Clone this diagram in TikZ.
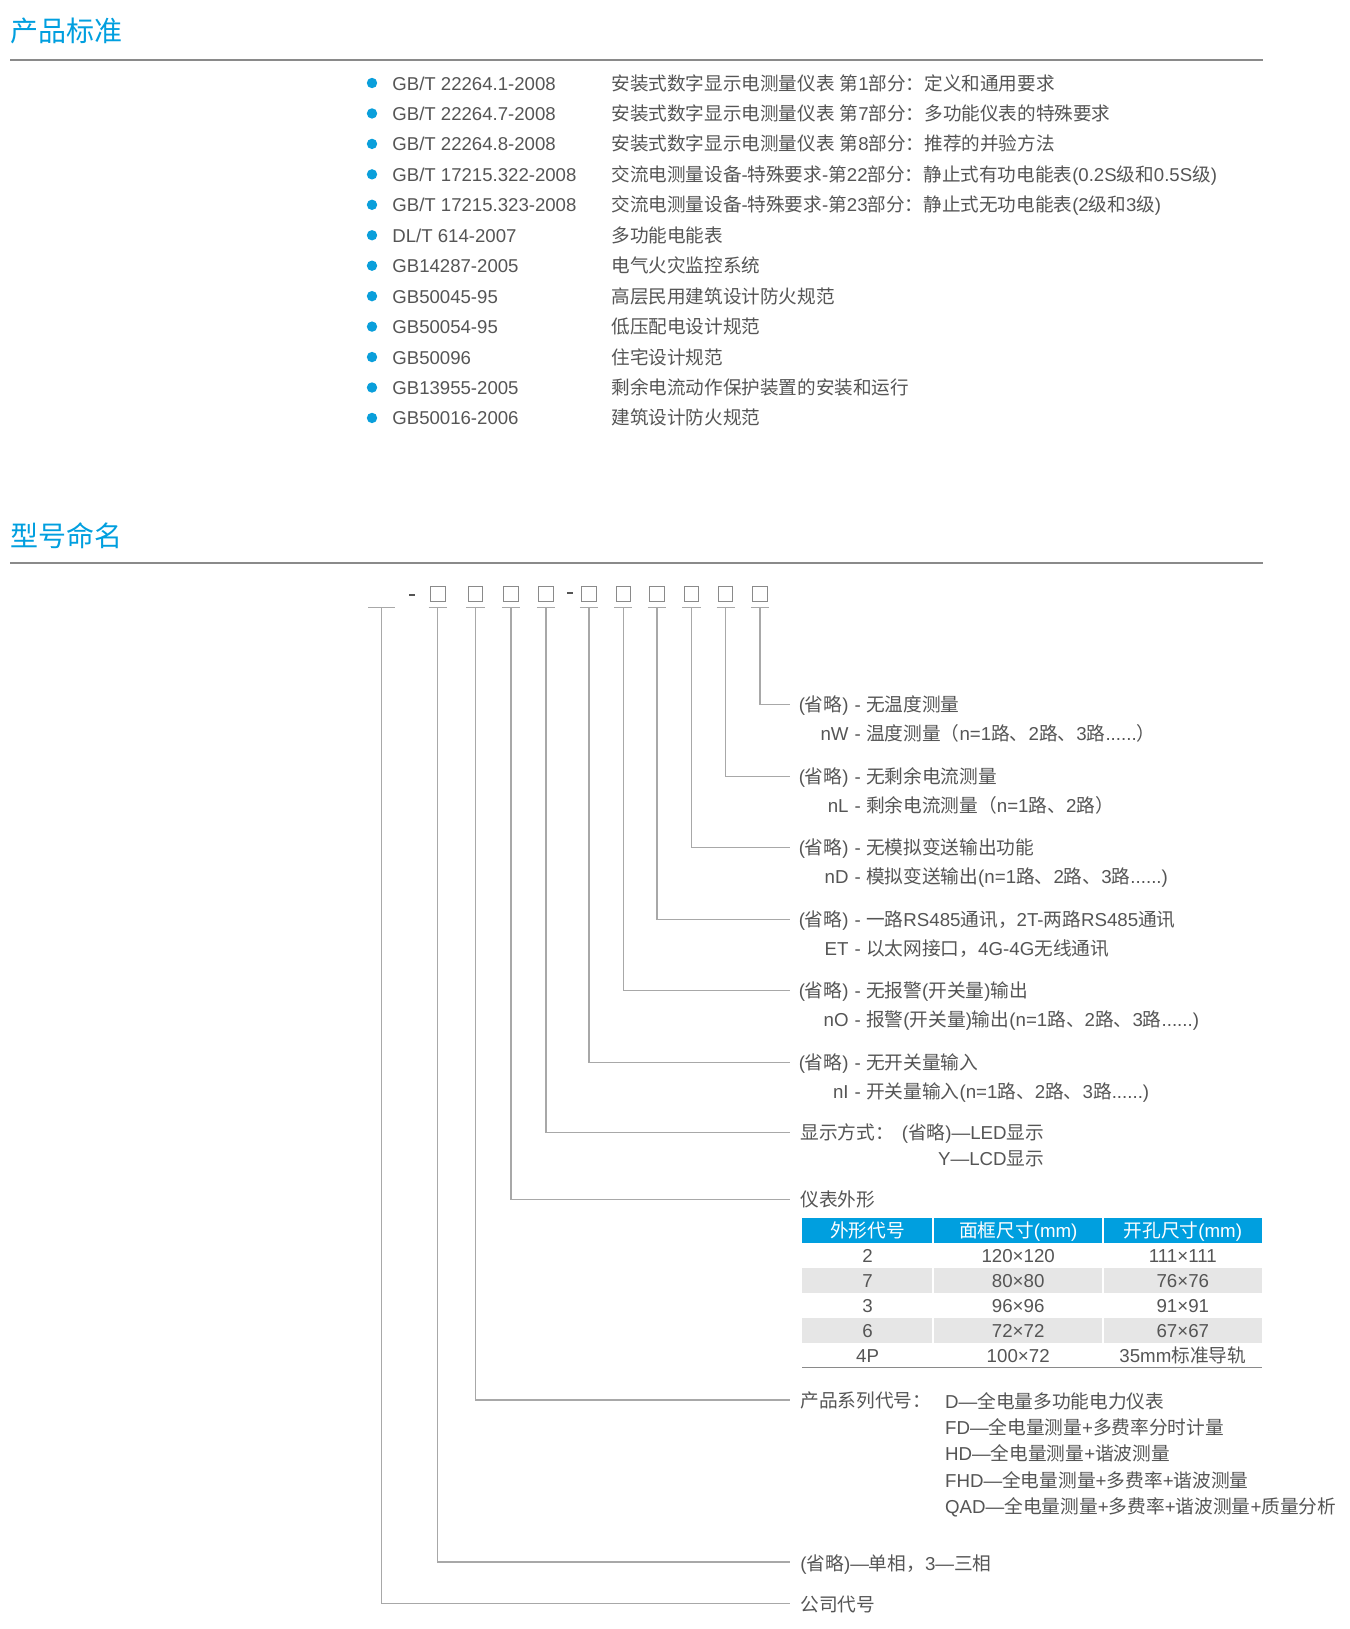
\documentclass[tikz,border=0pt]{standalone}
\usepackage{fontspec}
\setmainfont{Liberation Sans}
\newfontfamily\zh{Noto Sans CJK SC}
\XeTeXinterchartokenstate=1
\newXeTeXintercharclass\cjkcls
\newcount\mycnt
\mycnt="2E80
\loop\XeTeXcharclass\mycnt=\cjkcls\ifnum\mycnt<"9FFF\advance\mycnt by 1\repeat
\mycnt="FF00
\loop\XeTeXcharclass\mycnt=\cjkcls\ifnum\mycnt<"FFEF\advance\mycnt by 1\repeat
\XeTeXinterchartoks 0 \cjkcls={\zh}
\XeTeXinterchartoks 4095 \cjkcls={\zh}
\XeTeXinterchartoks \cjkcls 0={\rmfamily}
\XeTeXinterchartoks \cjkcls 4095={\rmfamily}
\definecolor{hblue}{HTML}{009FDF}
\definecolor{tgray}{HTML}{555555}
\definecolor{lgray}{HTML}{A8A8A8}
\definecolor{rgray}{HTML}{8A8A8A}
\definecolor{rowg}{HTML}{E6E6E6}
\definecolor{bdot}{HTML}{0A9FDB}
\tikzset{
  hd/.style={anchor=west,inner sep=0pt,text=hblue,font=\fontsize{14}{16}\selectfont,text height=12pt,text depth=1.4pt},
  st/.style={anchor=west,inner sep=0pt,text=tgray,font=\fontsize{9.3}{11}\selectfont,text height=8pt,text depth=1pt},
  md/.style={anchor=west,inner sep=0pt,text=tgray,font=\fontsize{9.35}{11}\selectfont,text height=8pt,text depth=1pt},
  tc/.style={md,anchor=center},
  th/.style={tc,text=white},
  dot/.style={circle,fill=bdot,inner sep=0pt,minimum size=5.2pt},
  sq/.style={draw=rgray,line width=0.5pt,inner sep=0pt,minimum width=7.2pt,minimum height=7.2pt},
  ln/.style={draw=lgray,line width=0.6pt},
  rule/.style={draw=rgray,line width=1pt},
}
\newcommand\strow[3]{%
  \node[dot] (p#1) at (372,{83+30.45*#1}) {};
  \node[st] (c#1) at (392,{83+30.45*#1}) {#2};
  \node[st] (d#1) at (611,{83+30.45*#1}) {#3};}
\newcommand\mrow[4]{%
  \node[md,anchor=east] (#1a) at (849,#2) {#3};
  \node[md] (#1b) at (849,#2) {\ - #4};}
\begin{document}
\begin{tikzpicture}[x=0.5pt,y=-0.5pt]
\useasboundingbox (0,0) rectangle (1350,1629);
\fill[white] (0,0) rectangle (1350,1629);
% heading 1
\node[hd] (h1) at (10,31) {产品标准};
\coordinate (r1a) at (10,59.5); \coordinate (r1b) at (1263,59.5);
\draw[rule] (r1a) -- (r1b);
\strow{0}{GB/T 22264.1-2008}{安装式数字显示电测量仪表 第1部分：定义和通用要求}
\strow{1}{GB/T 22264.7-2008}{安装式数字显示电测量仪表 第7部分：多功能仪表的特殊要求}
\strow{2}{GB/T 22264.8-2008}{安装式数字显示电测量仪表 第8部分：推荐的并验方法}
\strow{3}{GB/T 17215.322-2008}{交流电测量设备-特殊要求-第22部分：静止式有功电能表(0.2S级和0.5S级)}
\strow{4}{GB/T 17215.323-2008}{交流电测量设备-特殊要求-第23部分：静止式无功电能表(2级和3级)}
\strow{5}{DL/T 614-2007}{多功能电能表}
\strow{6}{GB14287-2005}{电气火灾监控系统}
\strow{7}{GB50045-95}{高层民用建筑设计防火规范}
\strow{8}{GB50054-95}{低压配电设计规范}
\strow{9}{GB50096}{住宅设计规范}
\strow{10}{GB13955-2005}{剩余电流动作保护装置的安装和运行}
\strow{11}{GB50016-2006}{建筑设计防火规范}
% heading 2
\node[hd] (h2) at (10,535.5) {型号命名};
\coordinate (r2a) at (10,563); \coordinate (r2b) at (1263,563);
\draw[rule] (r2a) -- (r2b);
% top row
\coordinate (m1a) at (409.3,595); \coordinate (m1b) at (414.5,595);
\coordinate (m2a) at (567.3,593); \coordinate (m2b) at (572.7,593);
\draw[draw=tgray,line width=1pt] (m1a) -- (m1b);
\draw[draw=tgray,line width=1pt] (m2a) -- (m2b);
\foreach \x [count=\i] in {437.8,475.5,511,546,589,623.2,657,691.3,725.7,760}{
  \node[sq] (b\i) at (\x,593.8) {};
  \coordinate (k\i) at (\x,607.7);
  \draw[ln] ([xshift=-4.6pt]k\i) -- ([xshift=4.6pt]k\i);
}
\coordinate (k0) at (381.5,607.7);
\draw[ln] ([xshift=-6.7pt]k0) -- ([xshift=6.7pt]k0);
% branch ends
\foreach \y [count=\i from 0] in {1603.5,1562,1400,1199.4,1132.5,1062.8,990.5,919.5,847.8,776.5,704.5}{
  \coordinate (e\i) at (790,\y);
  \draw[ln] (k\i) |- (e\i);
}
% labels
\mrow{t10}{704.5}{(省略)}{无温度测量}
\mrow{u10}{733.2}{nW}{温度测量（n=1路、2路、3路......）}
\mrow{t9}{776.5}{(省略)}{无剩余电流测量}
\mrow{u9}{805.2}{nL}{剩余电流测量（n=1路、2路）}
\mrow{t8}{847.8}{(省略)}{无模拟变送输出功能}
\mrow{u8}{876.5}{nD}{模拟变送输出(n=1路、2路、3路......)}
\mrow{t7}{919.5}{(省略)}{一路RS485通讯，2T-两路RS485通讯}
\mrow{u7}{948.2}{ET}{以太网接口，4G-4G无线通讯}
\mrow{t6}{990.5}{(省略)}{无报警(开关量)输出}
\mrow{u6}{1019.2}{nO}{报警(开关量)输出(n=1路、2路、3路......)}
\mrow{t5}{1062.8}{(省略)}{无开关量输入}
\mrow{u5}{1091.5}{nI}{开关量输入(n=1路、2路、3路......)}
\node[md] (t4) at (800,1132.5) {显示方式：};
\node[md,anchor=east] (t4a) at (1044.5,1132.5) {(省略)—LED显示};
\node[md,anchor=east] (t4b) at (1044.5,1158.5) {Y—LCD显示};
\node[md] (t3) at (800,1199.4) {仪表外形};
% table
\fill[hblue] (802.3,1217.7) rectangle (1262.3,1243.3);
\fill[rowg] (802.3,1268.3) rectangle (1262.3,1293.3);
\fill[rowg] (802.3,1318.3) rectangle (1262.3,1342.7);
\foreach \x in {933,1103.3}{
  \draw[white,line width=1pt] (\x,1217.7) -- (\x,1243.3);
  \draw[white,line width=1pt] (\x,1268.3) -- (\x,1293.3);
  \draw[white,line width=1pt] (\x,1318.3) -- (\x,1342.7);
}
\draw[draw=rgray,line width=0.8pt] (802.3,1367.5) -- (1262.3,1367.5);
\node[th] (q0a) at (867.6,1230.5) {外形代号};
\node[th] (q0b) at (1018.2,1230.5) {面框尺寸(mm)};
\node[th] (q0c) at (1182.8,1230.5) {开孔尺寸(mm)};
\foreach \a/\b/\c/\y [count=\i] in {2/120×120/111×111/1255.8,7/80×80/76×76/1280.8,3/96×96/91×91/1305.8,6/72×72/67×67/1330.5,4P/100×72/35mm标准导轨/1355}{
  \node[tc] (q\i a) at (867.6,\y) {\a};
  \node[tc] (q\i b) at (1018.2,\y) {\b};
  \node[tc] (q\i c) at (1182.8,\y) {\c};
}
\node[md] (t2) at (800,1400) {产品系列代号：};
\node[md] (t2a) at (944.7,1401) {D—全电量多功能电力仪表};
\node[md] (t2b) at (944.7,1427.5) {FD—全电量测量+多费率分时计量};
\node[md] (t2c) at (944.7,1453.8) {HD—全电量测量+谐波测量};
\node[md] (t2d) at (944.7,1480.2) {FHD—全电量测量+多费率+谐波测量};
\node[md] (t2e) at (944.7,1506.8) {QAD—全电量测量+多费率+谐波测量+质量分析};
\node[md] (t1) at (800,1563) {(省略)—单相，3—三相};
\node[md] (t0) at (800,1604) {公司代号};
\end{tikzpicture}
\end{document}
